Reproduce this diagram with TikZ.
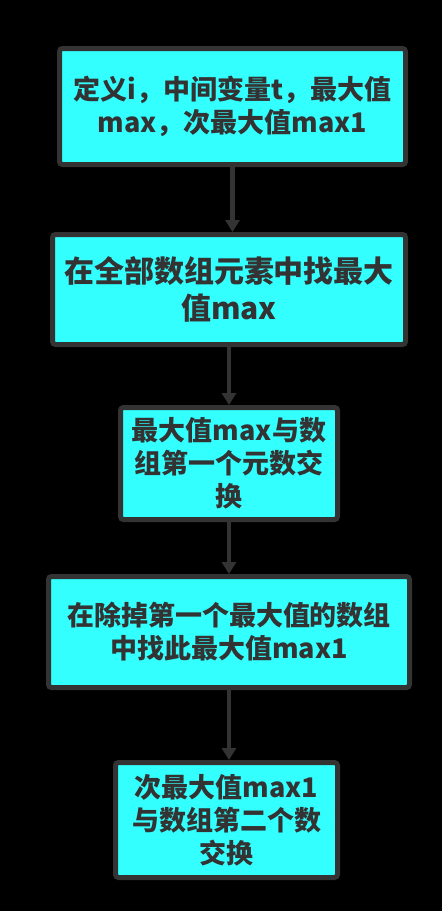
\documentclass[tikz,border=0pt]{standalone}
\usepackage{fontspec}
\usetikzlibrary{arrows.meta}
\newfontfamily\cjk{Noto Sans CJK SC}
\definecolor{boxfill}{RGB}{51,255,255}
\definecolor{boxline}{RGB}{51,51,51}
\begin{document}
\begin{tikzpicture}[x=1pt,y=-1pt,>={Triangle[width=14pt,length=12pt]},
    box/.style={draw=boxline,line width=5pt,fill=boxfill,rounded corners=3pt,
        text=boxline,align=center,inner sep=0pt,
        font=\cjk\bfseries\fontsize{27}{33}\selectfont},
    link/.style={->,draw=boxline,line width=4.5pt}]
    \fill[black] (0,0) rectangle (442,911);
    \node[box,minimum width=346pt,minimum height=116pt] (def) at (232.5,106.5) {定义i，中间变量t，最大值\\max，次最大值max1};
    \node[box,minimum width=353pt,minimum height=110pt,font=\cjk\bfseries\fontsize{30}{37}\selectfont] (findmax) at (229,289.5) {在全部数组元素中找最大\\值max};
    \node[box,minimum width=217pt,minimum height=112pt] (swapone) at (229,463.5) {最大值max与数\\组第一个元数交\\换};
    \node[box,minimum width=361pt,minimum height=111pt] (findnext) at (229,632) {在除掉第一个最大值的数组\\中找此最大值max1};
    \node[box,minimum width=222pt,minimum height=115pt] (swaptwo) at (226.5,820) {次最大值max1\\与数组第二个数\\交换};
    \draw[link] (def.south) -- (def.south |- findmax.north);
    \draw[link] (findmax.south) -- (findmax.south |- swapone.north);
    \draw[link] (swapone.south) -- (swapone.south |- findnext.north);
    \draw[link] (findnext.south) -- (findnext.south |- swaptwo.north);
\end{tikzpicture}
\end{document}
